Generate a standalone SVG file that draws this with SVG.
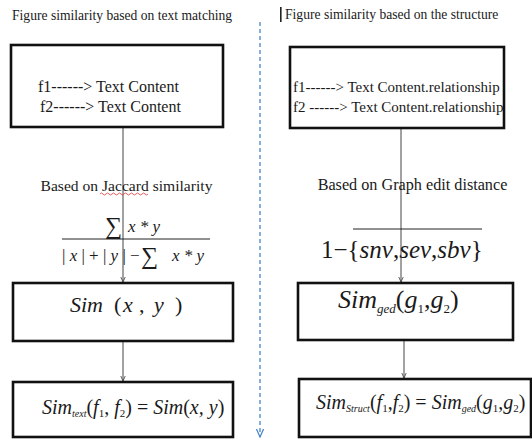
<svg xmlns="http://www.w3.org/2000/svg" width="532" height="441" viewBox="0 0 532 441">
<defs>
<style>
.box{fill:#fff;stroke:#111;stroke-width:2.6}
.conn{stroke:#444;stroke-width:1;fill:none}
</style>
<marker id="ah" viewBox="0 0 10 10" refX="9" refY="5" markerWidth="6" markerHeight="6" orient="auto" markerUnits="userSpaceOnUse">
<path d="M0,1 L9,5 L0,9" fill="none" stroke="#444" stroke-width="1.4"/>
</marker>
<marker id="bh" viewBox="0 0 10 10" refX="9" refY="5" markerWidth="9" markerHeight="9" orient="auto" markerUnits="userSpaceOnUse">
<path d="M0,1 L9,5 L0,9" fill="none" stroke="#4a86c8" stroke-width="1.4"/>
</marker>
</defs>
<rect width="532" height="441" fill="#fff"/>

<g id="titles">
<text style="font-family:'Liberation Serif',serif" fill="#1a1a1a" x="12" y="20" font-size="13.6">Figure similarity  based on text matching</text>
<rect x="280" y="7" width="1.6" height="15" fill="#222"/>
<text style="font-family:'Liberation Serif',serif" fill="#1a1a1a" x="285" y="19" font-size="13.6">Figure similarity based on the structure</text>
</g>

<g id="divider">
<line x1="260" y1="22" x2="260" y2="437" stroke="#4a86c8" stroke-width="1.3" stroke-dasharray="4,3" marker-end="url(#bh)"/>
</g>

<g id="connectors">
<line class="conn" x1="123" y1="127" x2="123" y2="282" marker-end="url(#ah)"/>
<line class="conn" x1="123" y1="341" x2="123" y2="381" marker-end="url(#ah)"/>
<line class="conn" x1="401" y1="128" x2="401" y2="282" marker-end="url(#ah)"/>
<line class="conn" x1="404" y1="340" x2="404" y2="378" marker-end="url(#ah)"/>
</g>

<g id="left-input">
<rect class="box" x="11" y="45" width="212" height="82"/>
<text style="font-family:'Liberation Serif',serif" fill="#1a1a1a" x="38" y="92" font-size="16">f1------&gt; Text Content</text>
<text style="font-family:'Liberation Serif',serif" fill="#1a1a1a" x="40" y="112" font-size="16">f2------&gt; Text Content</text>
</g>

<g id="left-method">
<text style="font-family:'Liberation Serif',serif" fill="#1a1a1a" x="126.5" y="191" font-size="15.6" text-anchor="middle">Based on Jaccard similarity</text>
<path d="M100,194 q1.5,-2 3,0 t3,0 t3,0 t3,0 t3,0 t3,0 t3,0 t3,0 t3,0 t3,0 t3,0 t3,0 t3,0 t3,0 t3,0 t3,0" fill="none" stroke="#d33" stroke-width="0.8"/>
<text style="font-family:'Liberation Serif',serif" fill="#1a1a1a" x="105" y="234" font-size="24">∑</text>
<text style="font-family:'Liberation Serif',serif" fill="#1a1a1a" font-style="italic" x="128" y="232" font-size="17">x * y</text>
<line x1="62" y1="239" x2="210" y2="239" stroke="#222" stroke-width="1"/>
<text style="font-family:'Liberation Serif',serif" fill="#1a1a1a" x="62" y="261" font-size="17">| <tspan font-style="italic">x</tspan> | + | <tspan font-style="italic">y</tspan> | −</text>
<text style="font-family:'Liberation Serif',serif" fill="#1a1a1a" x="141" y="264" font-size="24">∑</text>
<text style="font-family:'Liberation Serif',serif" fill="#1a1a1a" font-style="italic" x="172" y="261" font-size="17">x * y</text>
</g>

<g id="left-sim">
<rect class="box" x="13" y="283" width="220" height="58"/>
<text style="font-family:'Liberation Serif',serif" fill="#1a1a1a" font-size="22" y="312"><tspan x="70" font-style="italic">Sim</tspan><tspan x="114">(</tspan><tspan x="123" font-style="italic">x</tspan><tspan x="139">,</tspan><tspan x="154" font-style="italic">y</tspan><tspan x="175">)</tspan></text>
</g>

<g id="left-result">
<rect class="box" x="13" y="382" width="220" height="55"/>
<text style="font-family:'Liberation Serif',serif" fill="#1a1a1a" font-style="italic" x="42" y="414" font-size="20">Sim<tspan font-size="10" dy="3">text</tspan><tspan font-style="normal" dy="-3">(</tspan>f<tspan font-style="normal" font-size="11" dy="3">1</tspan><tspan font-style="normal" dy="-3">, </tspan>f<tspan font-style="normal" font-size="11" dy="3">2</tspan><tspan font-style="normal" dy="-3">) = </tspan>Sim<tspan font-style="normal">(</tspan>x, y<tspan font-style="normal">)</tspan></text>
</g>

<g id="right-input">
<rect class="box" x="290" y="47" width="214" height="81"/>
<text style="font-family:'Liberation Serif',serif" fill="#1a1a1a" x="293" y="92" font-size="15">f1------&gt; Text Content.relationship</text>
<text style="font-family:'Liberation Serif',serif" fill="#1a1a1a" x="293" y="112" font-size="15">f2 ------&gt; Text Content.relationship</text>
</g>

<g id="right-method">
<text style="font-family:'Liberation Serif',serif" fill="#1a1a1a" x="412.5" y="190" font-size="16.2" text-anchor="middle">Based on Graph edit distance</text>
<line x1="353" y1="229" x2="482" y2="229" stroke="#222" stroke-width="1"/>
<text style="font-family:'Liberation Serif',serif" fill="#1a1a1a" x="321" y="258" font-size="25">1−{<tspan font-style="italic">snv</tspan>,<tspan font-style="italic">sev</tspan>,<tspan font-style="italic">sbv</tspan>}</text>
</g>

<g id="right-sim">
<rect class="box" x="298" y="283" width="215" height="57"/>
<text style="font-family:'Liberation Serif',serif" fill="#1a1a1a" font-style="italic" x="338" y="308" font-size="26">Sim<tspan font-size="13" dy="5">ged</tspan><tspan font-style="normal" dy="-5">(</tspan>g<tspan font-style="normal" font-size="13" dy="5">1</tspan><tspan font-style="normal" dy="-5">,</tspan>g<tspan font-style="normal" font-size="13" dy="5">2</tspan><tspan font-style="normal" dy="-5">)</tspan></text>
</g>

<g id="right-result">
<rect class="box" x="299" y="379" width="232" height="58"/>
<text style="font-family:'Liberation Serif',serif" fill="#1a1a1a" font-style="italic" x="316" y="409" font-size="20">Sim<tspan font-size="10" dy="3">Struct</tspan><tspan font-style="normal" dy="-3">(</tspan>f<tspan font-style="normal" font-size="11" dy="3">1</tspan><tspan font-style="normal" dy="-3">,</tspan>f<tspan font-style="normal" font-size="11" dy="3">2</tspan><tspan font-style="normal" dy="-3">) = </tspan>Sim<tspan font-size="10" dy="3">ged</tspan><tspan font-style="normal" dy="-3">(</tspan>g<tspan font-style="normal" font-size="11" dy="3">1</tspan><tspan font-style="normal" dy="-3">,</tspan>g<tspan font-style="normal" font-size="11" dy="3">2</tspan><tspan font-style="normal" dy="-3">)</tspan></text>
</g>
</svg>
